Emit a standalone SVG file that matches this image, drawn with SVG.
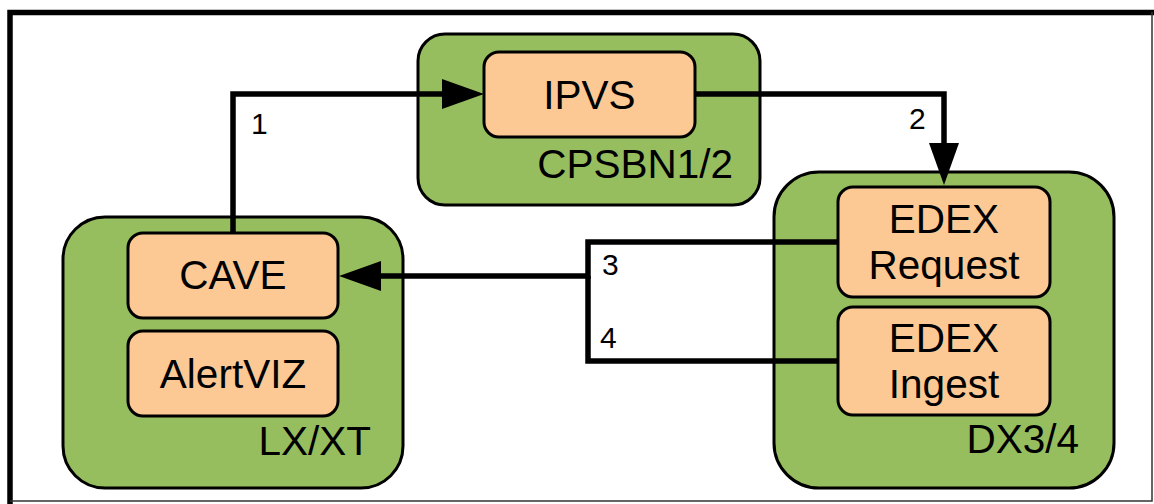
<svg xmlns="http://www.w3.org/2000/svg" width="1154" height="504" viewBox="0 0 1154 504">
<style>
.host{fill:#97BE5E;stroke:#000;stroke-width:3}
.svc{fill:#FCC995;stroke:#000;stroke-width:3}
.t{font-family:"Liberation Sans",Arial,sans-serif;font-size:40.5px;fill:#000}
.n{font-family:"Liberation Sans",Arial,sans-serif;font-size:30px;fill:#000}
.c{fill:none;stroke:#000;stroke-width:5.5;stroke-linejoin:miter;stroke-linecap:butt}
</style>
<defs>
<marker id="arr" markerUnits="userSpaceOnUse" markerWidth="44" markerHeight="32" refX="0" refY="15" orient="auto" overflow="visible">
<path d="M0,0 L42,15 L0,30 Z" fill="#000"/>
</marker>
</defs>
<rect width="1154" height="504" fill="#fff"/>
<g id="frame">
<path d="M10,504 V12.5 H1154" fill="none" stroke="#000" stroke-width="5.5"/>
<path d="M10,501 H1152 V12" fill="none" stroke="#333" stroke-width="1.5"/>
</g>
<g id="host-cpsbn">
<rect class="host" x="418" y="34" width="342" height="171" rx="27"/>
<text class="t" x="733" y="178" text-anchor="end">CPSBN1/2</text>
</g>
<g id="host-lxxt">
<rect class="host" x="63" y="217" width="340" height="271" rx="42"/>
<text class="t" x="371" y="455" text-anchor="end">LX/XT</text>
</g>
<g id="host-dx">
<rect class="host" x="774" y="172" width="340" height="316" rx="45"/>
<text class="t" x="1079" y="453" text-anchor="end">DX3/4</text>
</g>
<g id="connectors">
<path class="c" d="M233,233 V94 H442" marker-end="url(#arr)"/>
<path class="c" d="M695,94 H944 V143" marker-end="url(#arr)"/>
<path class="c" d="M838,242 H588 V276 H381" marker-end="url(#arr)"/>
<path class="c" d="M838,361 H588 V276"/>
<text class="n" x="251" y="134">1</text>
<text class="n" x="909" y="129">2</text>
<text class="n" x="602" y="275">3</text>
<text class="n" x="600" y="348">4</text>
</g>
<g id="ipvs">
<rect class="svc" x="484" y="52" width="211" height="85" rx="15"/>
<text class="t" x="589.5" y="109" text-anchor="middle">IPVS</text>
</g>
<g id="cave">
<rect class="svc" x="128" y="233" width="210" height="85" rx="15"/>
<text class="t" x="233" y="289" text-anchor="middle">CAVE</text>
</g>
<g id="alertviz">
<rect class="svc" x="128" y="331" width="210" height="85" rx="15"/>
<text class="t" x="233" y="388" text-anchor="middle">AlertVIZ</text>
</g>
<g id="edex-request">
<rect class="svc" x="838" y="187" width="212" height="110" rx="15"/>
<text class="t" x="944" y="233" text-anchor="middle">EDEX</text>
<text class="t" x="944" y="279" text-anchor="middle">Request</text>
</g>
<g id="edex-ingest">
<rect class="svc" x="838" y="307" width="212" height="108" rx="15"/>
<text class="t" x="944" y="352" text-anchor="middle">EDEX</text>
<text class="t" x="944" y="398" text-anchor="middle">Ingest</text>
</g>
</svg>
